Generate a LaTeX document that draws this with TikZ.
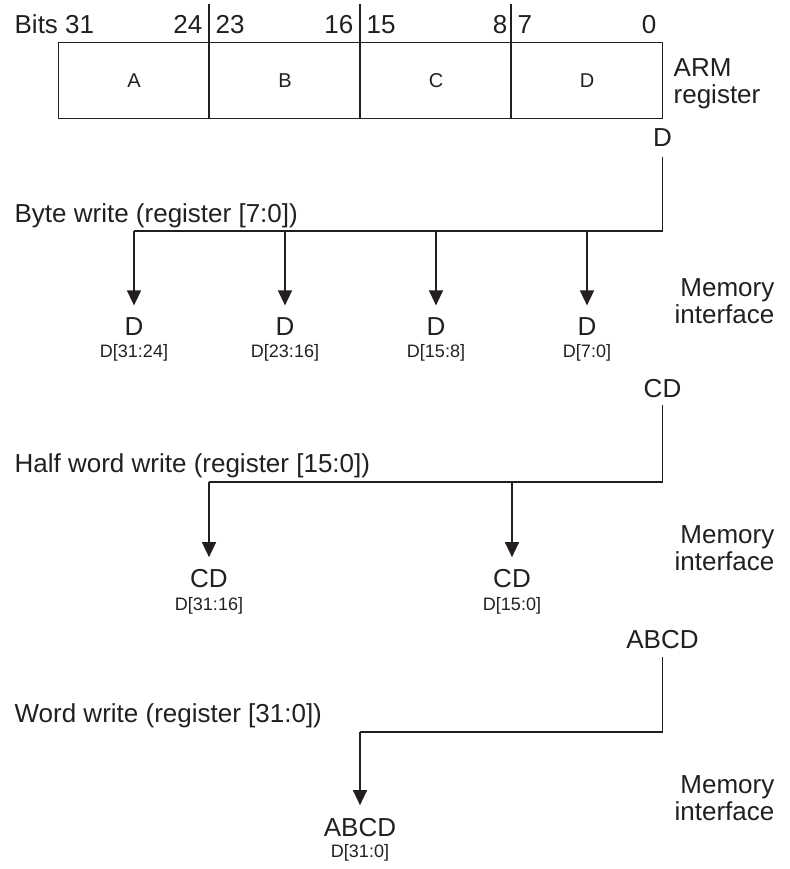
\documentclass[tikz,border=0pt]{standalone}
\usepackage{fontspec}
\setmainfont{Liberation Sans}
\usetikzlibrary{arrows.meta}
\definecolor{ink}{HTML}{231F20}
\begin{document}
\begin{tikzpicture}[x=1pt,y=-1pt,line width=1.3pt,color=ink,
  big/.style={inner sep=0pt,font=\fontsize{26}{27}\selectfont},
  cell/.style={inner sep=0pt,font=\fontsize{20}{21}\selectfont},
  sub/.style={inner sep=0pt,font=\fontsize{18}{19}\selectfont},
  arr/.style={-{Triangle[width=14pt,length=15pt]}},
]
\useasboundingbox (0,0) rectangle (789,869);

% ---------- register ----------
\node[draw, minimum width=604pt, minimum height=76pt, inner sep=0pt, anchor=north west] (reg) at (58,42) {};
\coordinate (d1) at (209,4);
\coordinate (d2) at (360,4);
\coordinate (d3) at (511,4);
\draw (d1) -- (d1 |- reg.south);
\draw (d2) -- (d2 |- reg.south);
\draw (d3) -- (d3 |- reg.south);
\node[cell] (cA) at (134,81) {A};
\node[cell] (cB) at (285,81) {B};
\node[cell] (cC) at (436,81) {C};
\node[cell] (cD) at (587,81) {D};

\node[big, anchor=base west] (bits) at (14,34) {Bits 31};
\node[big, anchor=base east] (b24) at (203,34) {24};
\node[big, anchor=base west] (b23) at (215,34) {23};
\node[big, anchor=base east] (b16) at (354,34) {16};
\node[big, anchor=base west] (b15) at (366,34) {15};
\node[big, anchor=base east] (b8) at (508,34) {8};
\node[big, anchor=base west] (b7) at (517,34) {7};
\node[big, anchor=base east] (b0) at (657,34) {0};
\node[big, anchor=base west, align=left] (arm) at (673,104) {ARM\\register};

% ---------- byte write ----------
\node[big] (sD) at (662.5,138) {D};
\coordinate (j1) at (662.5,231);
\coordinate (k1) at (134,231);
\node[big, anchor=base west] (bw) at (14,222) {Byte write (register [7:0])};
\node[big, anchor=base east, align=right] (m1) at (775,323) {Memory\\interface};
\node[big] (tD1) at (134,327) {D};
\node[big] (tD2) at (285,327) {D};
\node[big] (tD3) at (436,327) {D};
\node[big] (tD4) at (587,327) {D};
\node[sub, anchor=base] (sb1) at (134,357) {D[31:24]};
\node[sub, anchor=base] (sb2) at (285,357) {D[23:16]};
\node[sub, anchor=base] (sb3) at (436,357) {D[15:8]};
\node[sub, anchor=base] (sb4) at (587,357) {D[7:0]};
\draw[shorten <=9pt] (sD.south) -- (j1) -- (k1);
\draw[arr, shorten >=12pt] (k1) -- (tD1.north);
\draw[arr, shorten >=12pt] (tD2 |- j1) -- (tD2.north);
\draw[arr, shorten >=12pt] (tD3 |- j1) -- (tD3.north);
\draw[arr, shorten >=12pt] (tD4 |- j1) -- (tD4.north);

% ---------- half word write ----------
\node[big] (sCD) at (662.5,389) {CD};
\coordinate (j2) at (662.5,482);
\coordinate (k2) at (209,482);
\node[big, anchor=base west] (hw) at (14,472) {Half word write (register [15:0])};
\node[big, anchor=base east, align=right] (m2) at (775,570) {Memory\\interface};
\node[big] (tH1) at (209,579) {CD};
\node[big] (tH2) at (512,579) {CD};
\node[sub, anchor=base] (sh1) at (209,610) {D[31:16]};
\node[sub, anchor=base] (sh2) at (512,610) {D[15:0]};
\draw[shorten <=6pt] (sCD.south) -- (j2) -- (k2);
\draw[arr, shorten >=12pt] (k2) -- (tH1.north);
\draw[arr, shorten >=12pt] (tH2 |- j2) -- (tH2.north);

% ---------- word write ----------
\node[big] (sW) at (662.5,640) {ABCD};
\coordinate (j3) at (662.5,732);
\coordinate (k3) at (360,732);
\node[big, anchor=base west] (ww) at (14,722) {Word write (register [31:0])};
\node[big, anchor=base east, align=right] (m3) at (775,820) {Memory\\interface};
\node[big] (tW) at (360,828) {ABCD};
\node[sub, anchor=base] (sw) at (360,857) {D[31:0]};
\draw[shorten <=7pt] (sW.south) -- (j3) -- (k3);
\draw[arr, shorten >=13pt] (k3) -- (tW.north);
\end{tikzpicture}
\end{document}
